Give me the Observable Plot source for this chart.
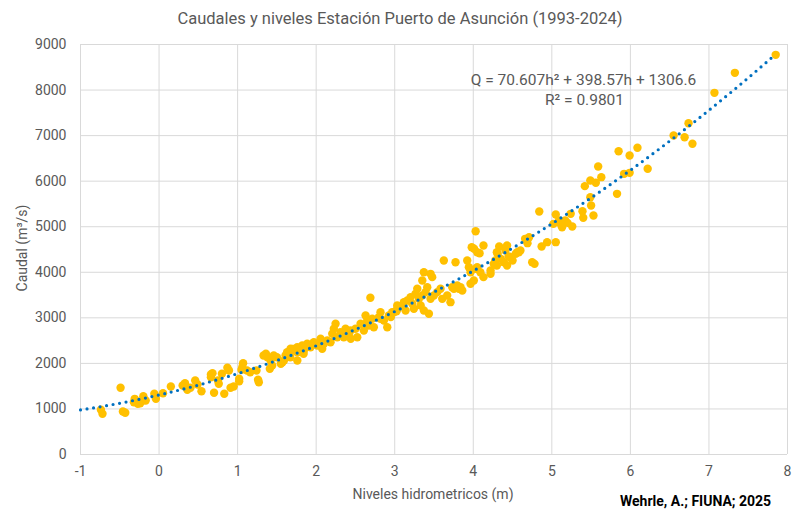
<!DOCTYPE html>
<html><head><meta charset="utf-8">
<script src="https://cdn.jsdelivr.net/npm/d3@7"></script>
<script src="https://cdn.jsdelivr.net/npm/@observablehq/plot@0.6"></script>
<style>
body{margin:0;background:#fff;font-family:Roboto,"Liberation Sans",sans-serif;}
#wrap{position:relative;width:800px;height:517px;overflow:hidden;background:#fff;}
#wrap svg{position:absolute;left:0;top:0;}
.t{position:absolute;white-space:nowrap;color:#595959;}
#title{top:9px;left:0;width:800px;text-align:center;font-size:16.5px;}
#xlab{top:486px;left:333px;width:200px;text-align:center;font-size:14px;}
#ylab{top:240px;left:-28px;width:100px;text-align:center;font-size:14px;transform:rotate(-90deg);}
#cap{top:493px;left:620px;font-size:14px;font-weight:bold;color:#000;}
</style></head>
<body><div id="wrap">
<div class="t" id="title">Caudales y niveles Estación Puerto de Asunción (1993-2024)</div>
<div class="t" id="xlab">Niveles hidrometricos (m)</div>
<div class="t" id="ylab">Caudal (m³/s)</div>
<div class="t" id="cap">Wehrle, A.; FIUNA; 2025</div>
</div>
<script>
const xTicks = [-1, 0, 1, 2, 3, 4, 5, 6, 7, 8];
const yTicks = [0, 1000, 2000, 3000, 4000, 5000, 6000, 7000, 8000, 9000];

// Nivel hidrométrico h (m)
const nivel = [
 -0.49,-0.74,-0.72,-0.46,-0.43,-0.31,-0.32,-0.27,-0.24,-0.20,-0.17,-0.21,-0.06,-0.04,0.05,0.15,0.30,0.33,0.36,0.40,0.46,0.49,0.54,0.66,0.68,0.66,0.70,0.75,0.76,0.80,0.83,0.87,0.89,0.91,0.95,1.02,1.02,1.05,1.07,1.06,1.12,
 1.16,1.24,1.26,1.36,1.38,1.41,1.44,1.46,1.50,1.55,1.57,1.61,1.63,1.27,1.33,1.42,1.59,1.67,1.69,1.76,1.84,
 1.674,1.716,1.759,1.823,1.843,1.886,1.928,1.970,2.014,2.056,2.077,2.098,2.141,2.183,2.205,2.225,2.247,2.268,2.310,2.352,2.374,2.416,2.438,2.501,2.523,2.565,2.607,2.629,2.650,2.671,2.714,2.734,2.798,2.819,2.862,2.905,2.925,2.989,3.032,3.023,
 2.69,2.44,2.82,2.95,1.70,1.76,
 2.968,3.032,3.096,3.116,3.138,3.160,3.202,3.223,3.244,3.265,3.287,3.308,3.330,3.351,3.371,3.392,3.414,3.435,3.456,3.371,3.351,3.456,3.477,3.498,3.541,3.583,3.605,3.625,3.668,3.710,3.732,3.753,3.774,3.796,3.817,3.838,3.860,3.923,3.944,3.965,4.007,4.029,3.965,
 4.84,5.05,5.09,5.11,5.13,5.17,5.20,5.26,5.24,5.02,5.39,5.40,5.49,5.50,5.53,5.83,4.94,5.05,4.87,4.75,4.78,4.66,4.69,4.60,4.56,4.43,4.41,4.33,4.30,4.13,4.03,4.01,4.05,4.08,4.47,4.39,4.43,4.50,4.54,4.58,4.05,4.09,4.13,4.22,4.30,
 3.98,4.22,4.26,4.28,4.31,4.35,4.45,4.71,
 7.85,7.33,7.07,6.74,6.55,6.69,6.79,5.85,5.99,6.09,6.22,5.92,5.99,5.59,5.63,5.49,5.56,5.42
];
// Caudal Q (m³/s)
const caudal = [
 1464,981,893,944,915,1222,1148,1112,1126,1280,1185,1185,1332,1222,1346,1493,1515,1565,1420,1464,1624,1537,1389,1756,1785,1697,1354,1624,1552,1771,1332,1903,1844,1464,1493,1662,1609,1859,2004,1916,1844,
 1807,1844,1640,2210,2136,1881,1954,2173,2136,1991,2026,2173,2246,1587,2173,2063,2063,2136,2283,2246,2210,
 2320,2283,2355,2393,2283,2430,2355,2465,2393,2540,2320,2430,2502,2465,2649,2759,2869,2575,2684,2575,2759,2649,2722,2759,2575,2869,2722,3051,2941,2832,2979,2794,3014,3123,2941,2794,3051,3123,3271,3145,
 3440,2540,2978,3015,2319,2063,
 3124,3198,3271,3344,3161,3381,3454,3308,3198,3527,3637,3417,3271,3490,3161,3564,3673,3088,3417,4002,3820,3966,3893,3490,3564,3637,3417,4258,3490,3344,3673,3637,4221,3710,3637,3673,3600,4258,4112,4002,3820,4075,3747,
 5334,5268,5136,5063,4990,5136,5085,5005,5283,5063,5341,5196,5648,5466,5247,5722,4661,4661,4566,4222,4185,4734,4639,4478,4441,4588,4478,4566,4441,4588,4902,4515,4441,4419,4331,4222,4149,4258,4405,4441,4112,4002,3893,4039,4149,
 4551,3966,4185,4258,4405,4295,4350,4770,
 8773,8378,7939,7272,7002,6965,6820,6657,6563,6732,6271,6161,6183,6322,6088,6015,5964,5891
];

// Trendline coefficients (from the chart's equation): Q = a h² + b h + c
const coef = [70.607, 398.57, 1306.6];
const trendRange = [-1, 7.85];
const eqLines = ["Q = 70.607h² + 398.57h + 1306.6", "R² = 0.9801"];

const points = nivel.map((h, i) => ({h, q: caudal[i]}));
const trend = d3.range(trendRange[0], trendRange[1] + 1e-9, 0.05).map(h => ({h, q: coef[0]*h*h + coef[1]*h + coef[2]}));

const chart = Plot.plot({
  width: 800, height: 517,
  marginLeft: 80, marginRight: 13, marginTop: 44, marginBottom: 63,
  style: {fontFamily: "Roboto, 'Liberation Sans', sans-serif", fontSize: "14px", color: "#595959", background: "transparent"},
  x: {domain: [-1, 8], ticks: xTicks, tickSize: 0, tickPadding: 12, label: null, tickFormat: d => String(d)},
  y: {domain: [0, 9000], ticks: yTicks, tickSize: 0, tickPadding: 14, label: null, tickFormat: d => String(d)},
  marks: [
    Plot.gridX(xTicks, {stroke: "#d9d9d9", strokeOpacity: 1, strokeWidth: 1}),
    Plot.gridY(yTicks, {stroke: "#d9d9d9", strokeOpacity: 1, strokeWidth: 1}),
    Plot.dot(points, {x: "h", y: "q", r: 4.2, fill: "#FFC000", stroke: "none"}),
    Plot.line(trend, {x: "h", y: "q", stroke: "#0070C0", strokeWidth: 3.2, strokeDasharray: "0 6.6", strokeLinecap: "round"}),
    Plot.text([eqLines[0]], {frameAnchor: "top-left", dx: 503, dy: 36, text: d => d, textAnchor: "middle", lineAnchor: "middle", fill: "#595959", fontSize: 15.5}),
    Plot.text([eqLines[1]], {frameAnchor: "top-left", dx: 504, dy: 56, text: d => d, textAnchor: "middle", lineAnchor: "middle", fill: "#595959", fontSize: 15.5})
  ]
});
document.getElementById("wrap").prepend(chart);
</script>
</body></html>
